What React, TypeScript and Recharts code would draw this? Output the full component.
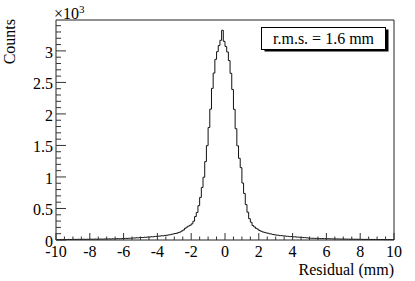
import { Line, LineChart, ReferenceArea, XAxis, YAxis } from "recharts";

const textStyle = { fontFamily: "Liberation Serif" };

// histogram binning: 200 bins of 0.1 mm from -10 to 10
const BIN_LOW = -10;
const BIN_WIDTH = 0.1;

// counts left of the peak (bins -10.0 .. -0.3)
const COUNTS_LEFT = [
  7, 5, 8, 6, 9, 8, 7, 10, 8, 9,
  11, 9, 10, 12, 9, 11, 13, 10, 12, 11,
  14, 12, 13, 15, 12, 14, 16, 13, 15, 17,
  16, 18, 15, 19, 17, 20, 22, 19, 21, 23,
  23, 26, 25, 29, 28, 32, 31, 35, 34, 38,
  40, 39, 44, 43, 48, 47, 52, 51, 56, 57,
  61, 62, 67, 66, 72, 74, 80, 83, 91, 95,
  103, 107, 117, 126, 142, 158, 186, 204, 221, 234,
  256, 298, 372, 437, 545, 676, 834, 996, 1243, 1497,
  1784, 2076, 2405, 2648, 2866, 2987, 3085, 3168,
];
// peak bin (-0.2 .. -0.1)
const COUNTS_PEAK = [3327];
// counts right of the peak (bins -0.1 .. 9.9)
const COUNTS_RIGHT = [
  3152, 3071, 2983, 2846, 2644, 2388, 2073, 1766, 1494, 1296,
  1148, 903, 738, 562, 441, 338, 282, 229, 207, 184,
  171, 149, 139, 127, 121, 112, 108, 99, 95, 87,
  83, 78, 76, 70, 69, 65, 64, 59, 58, 54,
  54, 50, 51, 46, 46, 42, 42, 38, 38, 34,
  31, 29, 28, 27, 26, 25, 24, 22, 23, 21,
  22, 20, 21, 18, 19, 17, 18, 16, 17, 15,
  16, 14, 15, 13, 14, 12, 13, 11, 12, 11,
  12, 10, 11, 9, 10, 9, 10, 8, 9, 8,
  9, 7, 8, 7, 8, 6, 7, 6, 7, 6, 6,
];

const X_MAJOR = [-10, -8, -6, -4, -2, 0, 2, 4, 6, 8, 10];
const Y_MAJOR = [0, 500, 1000, 1500, 2000, 2500, 3000];
const Y_MAX = 3490;
const RMS_TEXT = "r.m.s. = 1.6 mm";

const COUNTS = [...COUNTS_LEFT, ...COUNTS_PEAK, ...COUNTS_RIGHT];
const data = COUNTS.map((c, i) => ({ x: +(BIN_LOW + i * BIN_WIDTH).toFixed(2), c }));
// closing point so the last bin gets its top edge
data.push({ x: +(BIN_LOW + COUNTS.length * BIN_WIDTH).toFixed(2), c: COUNTS[COUNTS.length - 1] });

const xTicks: number[] = [];
for (let v = -10; v <= 10.001; v += 0.5) xTicks.push(+v.toFixed(1));
const yTicks: number[] = [];
for (let v = 0; v < Y_MAX; v += 100) yTicks.push(v);

const XTick = (props: any) => {
  const { x, y, payload } = props;
  const major = X_MAJOR.includes(payload.value);
  return (
    <g>
      <line x1={x} x2={x} y1={y} y2={y - (major ? 7 : 3.5)} stroke="#333" />
      {major && (
        <text x={x} y={y + 16.5} textAnchor="middle" fontSize={16} style={textStyle} fill="#000">
          {payload.value}
        </text>
      )}
    </g>
  );
};

const YTick = (props: any) => {
  const { x, y, payload } = props;
  const major = Y_MAJOR.includes(payload.value);
  return (
    <g>
      <line x1={x} x2={x + (major ? 10 : 5)} y1={y} y2={y} stroke="#333" />
      {major && (
        <text x={x - 3} y={y + 7} textAnchor="end" fontSize={16} style={textStyle} fill="#000">
          {payload.value / 1000}
        </text>
      )}
    </g>
  );
};

export default function App() {
  return (
    <div style={{ position: "absolute", left: 0, top: 0, width: 415, height: 281, background: "#fff" }}>
      <LineChart width={415} height={281} data={data} margin={{ top: 20, right: 21, bottom: 0, left: 0 }}>
        <XAxis
          dataKey="x"
          type="number"
          domain={[-10, 10]}
          ticks={xTicks}
          interval={0}
          tick={<XTick />}
          tickSize={0}
          tickMargin={0}
          axisLine={false}
          height={41}
        />
        <YAxis
          type="number"
          domain={[0, Y_MAX]}
          ticks={yTicks}
          interval={0}
          tick={<YTick />}
          tickSize={0}
          tickMargin={0}
          axisLine={false}
          width={56}
        />
        <ReferenceArea x1={-10} x2={10} y1={0} y2={Y_MAX} fill="none" stroke="#222" strokeWidth={1} ifOverflow="visible" />
        <Line
          dataKey="c"
          type="stepAfter"
          dot={false}
          stroke="#111"
          strokeWidth={1}
          isAnimationActive={false}
        />
      </LineChart>
      <svg width={415} height={281} style={{ position: "absolute", left: 0, top: 0, pointerEvents: "none" }}>
        <text x={54} y={18.5} fontSize={16} style={textStyle} fill="#000">
          ×10<tspan fontSize={11} dy={-6}>3</tspan>
        </text>
        <text transform="translate(15,19) rotate(-90)" textAnchor="end" fontSize={16} style={textStyle} fill="#000">
          Counts
        </text>
        <text x={394} y={275} textAnchor="end" fontSize={16} style={textStyle} fill="#000">
          Residual (mm)
        </text>
        <rect x={264.5} y={29.5} width={124} height={22} fill="#000" />
        <rect x={261.5} y={27.5} width={124} height={22} fill="#fff" stroke="#000" strokeWidth={1} />
        <text x={323.5} y={44} textAnchor="middle" fontSize={16} style={textStyle} fill="#000">
          {RMS_TEXT}
        </text>
      </svg>
    </div>
  );
}
